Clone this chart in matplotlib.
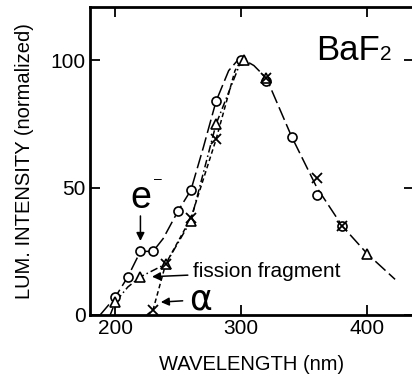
import matplotlib
matplotlib.use("Agg")
import matplotlib.pyplot as plt

# measured points (wavelength nm, normalized intensity)
e_wl = [200, 210, 220, 230, 250, 260, 280, 300, 320, 340, 360, 380]
e_int = [7, 15, 25, 25, 41, 49, 84, 100, 92, 70, 47, 35]

ff_wl = [200, 220, 240, 260, 280, 302, 320, 400]
ff_int = [5, 15, 20, 37, 75, 100, 93, 24]

a_wl = [230, 240, 260, 280, 320, 360, 380]
a_int = [2, 20, 38, 69, 93, 54, 35]

# hand-drawn guide curves
e_curve_wl = [188, 200, 210, 220, 230, 238, 250, 260, 270, 280, 290, 297, 303, 310, 320, 340, 360, 380, 400, 422]
e_curve_int = [0, 7, 15, 25, 25, 30, 41, 49, 66, 84, 96, 100, 100, 98, 93, 70, 50, 35, 24, 14]

ff_curve_wl = [196, 200, 210, 220, 240, 260, 280, 300]
ff_curve_int = [0, 5, 11, 15, 20, 37, 75, 100]

a_curve_wl = [225, 230, 240, 260, 280, 295, 300]
a_curve_int = [0, 2, 20, 38, 69, 96, 100]

plt.rcParams['font.family'] = ['Liberation Sans', 'DejaVu Sans']

fig = plt.figure(figsize=(4.12, 3.85), dpi=100)
ax = fig.add_axes([90 / 412, 70 / 385, 324 / 412, 308 / 385])

ax.plot(e_curve_wl, e_curve_int, color='black', lw=1.1, dashes=(9, 3))
ax.plot(ff_curve_wl, ff_curve_int, color='black', lw=1.1, dashes=(5, 2, 1, 2))
ax.plot(a_curve_wl, a_curve_int, color='black', lw=1.1, dashes=(3, 2))

ax.plot(e_wl, e_int, 'o', ms=6.5, mfc='white', mec='black', mew=1.2)
ax.plot(ff_wl, ff_int, '^', ms=7.5, mfc='white', mec='black', mew=1.2)
ax.plot(a_wl, a_int, 'x', ms=6.5, color='black', mew=1.3)

ax.set_xlim(180, 437)
ax.set_ylim(0, 121)
ax.set_xticks([200, 300, 400])
ax.set_yticks([0, 50, 100])
ax.tick_params(direction='in', length=7, width=1.3, labelsize=15, pad=3,
               top=True, right=True)
for s in ax.spines.values():
    s.set_linewidth(2)

ax.set_xlabel('WAVELENGTH (nm)', fontsize=14.5, labelpad=12)
ax.set_ylabel('LUM. INTENSITY (normalized)', fontsize=14.5, labelpad=12)

ax.text(359, 100, 'BaF', fontsize=25, ha='left', va='baseline')
ax.text(410, 100, '2', fontsize=15, ha='left', va='baseline')

ax.text(220.5, 42, 'e', fontsize=27, ha='center', va='baseline')
ax.text(230.5, 52, '–', fontsize=10, ha='left', va='baseline')
ax.annotate('', xy=(220, 28), xytext=(220, 40),
            arrowprops=dict(arrowstyle='-|>', color='black', lw=1.1, mutation_scale=12))

ax.annotate('fission fragment', xy=(227, 15), xytext=(262, 17),
            fontsize=15, va='center',
            arrowprops=dict(arrowstyle='-|>', color='black', lw=1.1, mutation_scale=12,
                            shrinkA=2, shrinkB=2))
ax.annotate('α', xy=(234, 5), xytext=(259, 6), fontsize=25, va='center',
            family=['DejaVu Sans'],
            arrowprops=dict(arrowstyle='-|>', color='black', lw=1.1, mutation_scale=12,
                            shrinkA=3, shrinkB=2))

fig.savefig('out.png', dpi=100)
